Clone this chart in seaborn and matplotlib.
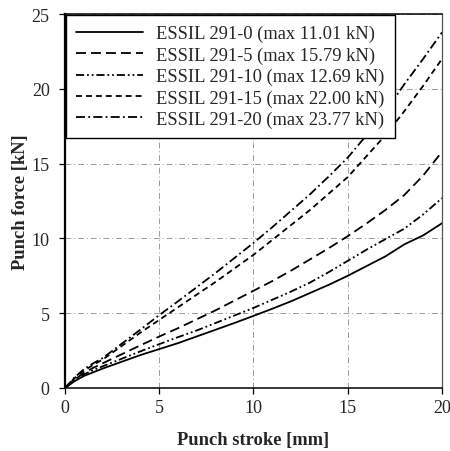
import numpy as np
import pandas as pd
import matplotlib
matplotlib.use("Agg")
import matplotlib.pyplot as plt
import seaborn as sns

# Punch stroke [mm] sample positions shared by all curves
stroke = [0, 0.5, 1, 1.5, 2, 3, 4, 5, 6, 7, 8, 9, 10, 11, 12, 13, 14, 15, 16, 17, 18, 19, 20]

# Punch force [kN] for each material
force_0 = [0, 0.45, 0.8, 1.05, 1.3, 1.75, 2.2, 2.6, 3.0, 3.45, 3.9, 4.35, 4.82, 5.3, 5.8, 6.35,
           6.9, 7.5, 8.15, 8.8, 9.6, 10.2, 11.01]
force_5 = [0, 0.55, 1.0, 1.35, 1.65, 2.25, 2.85, 3.44, 4.0, 4.6, 5.2, 5.85, 6.5, 7.15, 7.85, 8.6,
           9.35, 10.15, 11.0, 11.9, 12.9, 14.2, 15.79]
force_10 = [0, 0.5, 0.9, 1.2, 1.45, 1.95, 2.45, 2.93, 3.4, 3.85, 4.35, 4.85, 5.35, 5.9, 6.45, 7.05,
            7.75, 8.5, 9.25, 9.95, 10.65, 11.6, 12.69]
force_15 = [0, 0.65, 1.15, 1.55, 1.9, 2.8, 3.7, 4.55, 5.4, 6.25, 7.1, 8.0, 8.9, 9.9, 10.9, 11.9,
            13.0, 14.1, 15.5, 16.9, 18.5, 20.2, 22.0]
force_20 = [0, 0.7, 1.25, 1.65, 2.0, 2.95, 3.9, 4.87, 5.8, 6.75, 7.7, 8.7, 9.7, 10.75, 11.85, 12.95,
            14.15, 15.4, 16.9, 18.5, 20.3, 22.0, 23.77]

labels = ["ESSIL 291-0 (max 11.01 kN)", "ESSIL 291-5 (max 15.79 kN)",
          "ESSIL 291-10 (max 12.69 kN)", "ESSIL 291-15 (max 22.00 kN)",
          "ESSIL 291-20 (max 23.77 kN)"]
series = [force_0, force_5, force_10, force_15, force_20]

styles = ["-", (0, (5.5, 2.8)), (0, (4.5, 1.6, 1, 1.6, 1, 1.6)), (0, (3.3, 2.2)),
          (0, (5, 1.8, 1, 1.8))]

sns.set_theme(style="white")
plt.rcParams["font.family"] = ["Liberation Serif", "DejaVu Serif"]

fig = plt.figure(figsize=(4.5, 4.52), dpi=100)
ax = fig.add_axes([0.1444, 0.1394, 0.9822 - 0.1444, 0.9668 - 0.1394])

for lab, y, ls in zip(labels, series, styles):
    df = pd.DataFrame({"stroke": stroke, "force": y})
    sns.lineplot(data=df, x="stroke", y="force", ax=ax, color="black",
                 linewidth=1.3, linestyle=ls, label=lab, zorder=3)

ax.set_xlim(0, 20)
ax.set_ylim(0, 25)
ax.set_xticks([0, 5, 10, 15, 20])
ax.set_yticks([0, 5, 10, 15, 20, 25])
ax.grid(True, color="#9a9a9a", linewidth=0.7, linestyle=(0, (6, 3, 1, 3)))
ax.set_axisbelow(True)

for side in ["left", "bottom", "top"]:
    ax.spines[side].set_color("black")
    ax.spines[side].set_linewidth(1.1)
ax.spines["left"].set_linewidth(1.6)
ax.spines["right"].set_color("#555555")
ax.spines["right"].set_linewidth(0.9)

ax.tick_params(axis="x", which="major", direction="out", length=4, width=0.9,
               color="black", labelsize=13, pad=4, bottom=True)
ax.tick_params(axis="y", which="major", direction="out", length=4, width=0.9,
               color="black", labelsize=13, pad=7, left=True)

ax.set_xlabel("Punch stroke [mm]", fontsize=13.3, fontweight="bold", labelpad=11)
ax.set_ylabel("Punch force [kN]", fontsize=13.3, fontweight="bold", labelpad=2)

leg = ax.legend(loc="upper left", fontsize=13.3, frameon=True, fancybox=False,
                edgecolor="black", framealpha=1, handlelength=3.6, handletextpad=0.75,
                borderpad=0.55, labelspacing=0.22, borderaxespad=0.05)
leg.get_frame().set_linewidth(1.0)
leg.set_zorder(5)

fig.savefig("out.png", dpi=100)
